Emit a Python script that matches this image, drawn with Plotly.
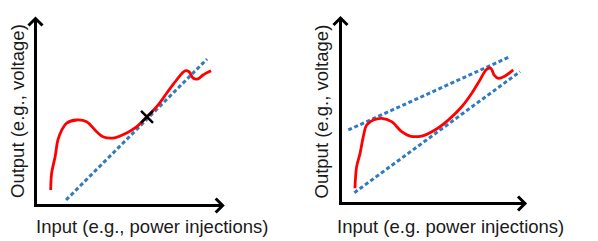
import plotly.graph_objects as go

# ---------------- data (arbitrary units, origin at axes corner) ----------------
# Left panel: nonlinear curve, tangent (linearisation) line, linearisation point
left_curve_x = [0.80, 0.85, 1.03, 1.18, 1.38, 1.64, 2.17, 2.69, 3.22, 3.55, 4.08, 4.80,
                5.33, 5.85, 6.38, 6.91, 7.43, 7.87, 8.08, 8.29, 8.55, 8.82, 9.24]
left_curve_y = [0.82, 1.71, 2.55, 3.45, 3.97, 4.34, 4.50, 4.41, 3.88, 3.62, 3.55, 3.82,
                4.15, 4.67, 5.20, 5.92, 6.61, 7.09, 7.04, 6.71, 6.66, 6.87, 7.09]
left_tangent_x = [1.61, 9.03]
left_tangent_y = [0.29, 7.71]
left_point_x = [5.87]
left_point_y = [4.66]

# Right panel: nonlinear curve bounded by upper and lower linear bounds
right_curve_x = [0.76, 0.85, 1.03, 1.20, 1.38, 1.73, 2.17, 2.69, 3.22, 3.66, 4.27, 4.97,
                 5.67, 6.38, 6.91, 7.34, 7.69, 7.91, 8.09, 8.31, 8.66, 9.09]
right_curve_y = [0.80, 1.94, 2.64, 3.52, 4.13, 4.39, 4.48, 4.31, 3.78, 3.55, 3.55, 3.87,
                 4.39, 5.09, 5.80, 6.50, 7.06, 7.12, 6.76, 6.59, 6.71, 7.03]
upper_bound_x = [0.41, 8.92]
upper_bound_y = [3.87, 7.73]
lower_bound_x = [0.73, 9.45]
lower_bound_y = [0.57, 6.94]

# axis arrow tips (data units)
left_xtip, left_ytip = 9.85, 9.84
right_xtip, right_ytip = 9.71, 9.76

x_labels = ["Input (e.g., power injections)", "Input (e.g. power injections)"]
y_labels = ["Output (e.g., voltage)", "Output (e.g., voltage)"]

# ---------------- layout constants ----------------
W, H = 598, 241
PX_PER_UNIT = 19.0
PAD = 0.5  # data units of padding below/left of the origin
RED = "#FF0000"
BLUE = "#2E7BC4"
TXT = "#1a1a1a"
FONT = "Liberation Sans, Arial, sans-serif"
FS = 18.5


def domains(ox, oy):
    x0 = (ox - PAD * PX_PER_UNIT) / W
    x1 = (ox + 10 * PX_PER_UNIT) / W
    y0 = 1 - (oy + PAD * PX_PER_UNIT) / H
    y1 = 1 - (oy - 10 * PX_PER_UNIT) / H
    return [x0, x1], [y0, y1]


lxd, lyd = domains(35.5, 205.5)
rxd, ryd = domains(340.5, 203.5)

fig = go.Figure()

dash = "4px,2.6px"

# left panel
fig.add_trace(go.Scatter(x=left_tangent_x, y=left_tangent_y, mode="lines",
                         line=dict(color=BLUE, width=3, dash=dash),
                         xaxis="x", yaxis="y", hoverinfo="skip"))
fig.add_trace(go.Scatter(x=left_curve_x, y=left_curve_y, mode="lines",
                         line=dict(color=RED, width=2.8, shape="spline", smoothing=1.0),
                         xaxis="x", yaxis="y", hoverinfo="skip"))
fig.add_trace(go.Scatter(x=left_point_x, y=left_point_y, mode="markers",
                         marker=dict(symbol="x-thin", size=12, color="black",
                                     line=dict(color="black", width=2.5)),
                         xaxis="x", yaxis="y", hoverinfo="skip"))

# right panel
fig.add_trace(go.Scatter(x=upper_bound_x, y=upper_bound_y, mode="lines",
                         line=dict(color=BLUE, width=3, dash=dash),
                         xaxis="x2", yaxis="y2", hoverinfo="skip"))
fig.add_trace(go.Scatter(x=lower_bound_x, y=lower_bound_y, mode="lines",
                         line=dict(color=BLUE, width=3, dash=dash),
                         xaxis="x2", yaxis="y2", hoverinfo="skip"))
fig.add_trace(go.Scatter(x=right_curve_x, y=right_curve_y, mode="lines",
                         line=dict(color=RED, width=2.8, shape="spline", smoothing=1.0),
                         xaxis="x2", yaxis="y2", hoverinfo="skip"))

shapes = []
for xr, yr, xt, yt in [("x", "y", left_xtip, left_ytip), ("x2", "y2", right_xtip, right_ytip)]:
    line = dict(color="black", width=3)
    # axis lines
    shapes.append(dict(type="line", xref=xr, yref=yr, x0=-0.08, y0=0, x1=xt - 0.05, y1=0, line=line))
    shapes.append(dict(type="line", xref=xr, yref=yr, x0=0, y0=-0.08, x1=0, y1=yt - 0.05, line=line))
    # chevron arrowheads
    shapes.append(dict(type="path", xref=xr, yref=yr, xsizemode="pixel", ysizemode="pixel",
                       xanchor=xt, yanchor=0, path="M -7,7 L 0,0 L -7,-7",
                       line=dict(color="black", width=3)))
    shapes.append(dict(type="path", xref=xr, yref=yr, xsizemode="pixel", ysizemode="pixel",
                       xanchor=0, yanchor=yt, path="M -7,-7 L 0,0 L 7,-7",
                       line=dict(color="black", width=3)))

annotations = []
for cx, ytxt in [(152, x_labels[0]), (450, x_labels[1])]:
    annotations.append(dict(text=ytxt, xref="paper", yref="paper", x=cx / W, y=1 - 226 / H,
                            xanchor="center", yanchor="middle", showarrow=False,
                            font=dict(family=FONT, size=FS, color=TXT)))
for cx, cy, ytxt in [(17.5, 111.5, y_labels[0]), (320.5, 112, y_labels[1])]:
    annotations.append(dict(text=ytxt, xref="paper", yref="paper", x=cx / W, y=1 - cy / H,
                            xanchor="center", yanchor="middle", showarrow=False, textangle=-90,
                            font=dict(family=FONT, size=FS, color=TXT)))

ax_common = dict(visible=False, range=[-PAD, 10], fixedrange=True)
fig.update_layout(
    width=W, height=H,
    margin=dict(l=0, r=0, t=0, b=0),
    paper_bgcolor="white", plot_bgcolor="white",
    showlegend=False,
    xaxis=dict(domain=lxd, anchor="y", **ax_common),
    yaxis=dict(domain=lyd, anchor="x", **ax_common),
    xaxis2=dict(domain=rxd, anchor="y2", **ax_common),
    yaxis2=dict(domain=ryd, anchor="x2", **ax_common),
    shapes=shapes,
    annotations=annotations,
)

fig.write_html("out.html", config={"displayModeBar": False},
               post_script="document.body.style.margin='0';document.body.style.overflow='hidden';")
